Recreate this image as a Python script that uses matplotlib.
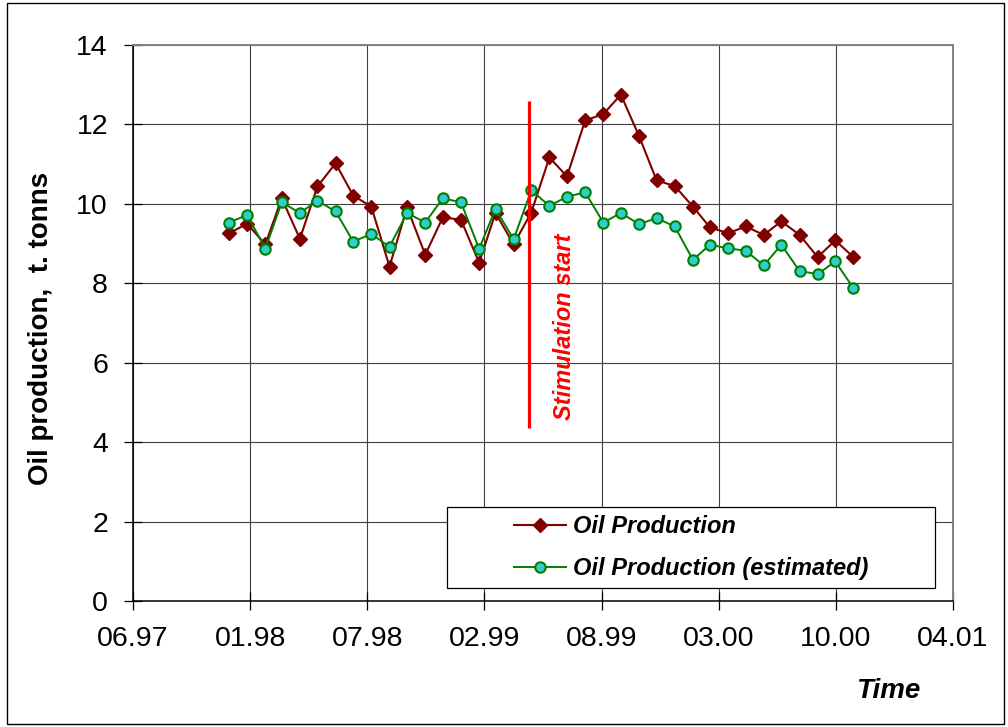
import matplotlib
matplotlib.use('Agg')
import matplotlib.pyplot as plt
import matplotlib.dates as mdates
from matplotlib.patches import Rectangle
import pandas as pd

plt.rcParams['font.family'] = ['Liberation Sans', 'DejaVu Sans']

# monthly data, 12.97 - 11.00
months = pd.date_range(start='1997-12-01', end='2000-11-01', freq='MS')
oil_prod = [9.26, 9.50, 8.98, 10.14, 9.12, 10.44, 11.02, 10.21, 9.93, 8.42,
            9.91, 8.72, 9.66, 9.60, 8.52, 9.77, 8.98, 9.78, 11.17, 10.69,
            12.10, 12.26, 12.75, 11.71, 10.59, 10.45, 9.93, 9.41, 9.26, 9.43,
            9.22, 9.56, 9.22, 8.66, 9.08, 8.66]
oil_est = [9.53, 9.72, 8.87, 10.04, 9.77, 10.08, 9.81, 9.05, 9.24, 8.92,
           9.77, 9.53, 10.14, 10.04, 8.87, 9.87, 9.11, 10.34, 9.95, 10.18,
           10.29, 9.53, 9.77, 9.49, 9.64, 9.43, 8.59, 8.97, 8.88, 8.82,
           8.45, 8.97, 8.31, 8.23, 8.55, 7.88]

# date axis like excel: start 06.97, major unit 200 days
axis_start = pd.Timestamp('1997-06-20')
tick_dates = pd.date_range(start=axis_start, periods=8, freq='200D')
stim_date = pd.Timestamp('1999-04-27')
stim_text_date = pd.Timestamp('1999-06-26')

fig = plt.figure(figsize=(10.08, 7.27), dpi=100)
ax = fig.add_axes([0.1319, 0.1733, 0.8135, 0.7648])

ax.plot(months, oil_prod, color='#800000', linewidth=1.5, marker='D',
        markersize=7, markerfacecolor='#800000', markeredgecolor='#800000',
        label='Oil Production', zorder=3)
ax.plot(months, oil_est, color='#008000', linewidth=1.4, marker='o',
        markersize=7.5, markerfacecolor='#33CCCC', markeredgecolor='#008000',
        markeredgewidth=1.5, label='Oil Production (estimated)', zorder=4)

# stimulation start marker
ax.vlines(stim_date, 4.36, 12.59, color='#FF0000', linewidth=2.3, zorder=5)
ax.text(stim_text_date, 4.56, 'Stimulation start', rotation=90, color='#FF0000',
        fontsize=17, fontweight='bold', fontstyle='italic',
        ha='center', va='bottom', zorder=5)

ax.set_xlim(tick_dates[0], tick_dates[-1])
ax.set_ylim(0, 14)
ax.set_yticks(range(0, 15, 2))
ax.set_xticks(tick_dates)
ax.xaxis.set_major_formatter(mdates.DateFormatter('%m.%y'))

ax.grid(True, color='#404040', linewidth=0.8)
ax.set_axisbelow(True)
ax.tick_params(direction='inout', length=13, width=0.9, pad=11.5,
               labelsize=20.5, colors='black')

for s in ['top', 'right']:
    ax.spines[s].set_color('#808080')
    ax.spines[s].set_linewidth(1.4)
for s in ['left', 'bottom']:
    ax.spines[s].set_color('black')
    ax.spines[s].set_linewidth(1.1)

ax.set_ylabel('Oil production,  t. tonns', fontsize=20, fontweight='bold')
ax.yaxis.set_label_coords(-0.0963, 0.49)
ax.set_xlabel('Time', fontsize=20, fontweight='bold', fontstyle='italic')
ax.xaxis.set_label_coords(0.9207, -0.1385)

# legend box (excel style, wide padding)
ax.add_patch(Rectangle((0.383, 0.0234), 0.595, 0.1457, transform=ax.transAxes,
                       facecolor='white', edgecolor='black', linewidth=0.9,
                       zorder=6))
leg = ax.legend(loc='center', bbox_to_anchor=(0.6805, 0.0962), frameon=False,
                prop={'size': 17, 'weight': 'bold', 'style': 'italic'},
                handlelength=2.2, handletextpad=0.3, labelspacing=0.8)
leg.set_zorder(7)

# frame around the whole picture
fig.patches.append(Rectangle((7 / 1008, 3 / 727), 997 / 1008, 721 / 727,
                             transform=fig.transFigure, fill=False,
                             edgecolor='black', linewidth=1.0))

fig.savefig('out.png', dpi=100)
